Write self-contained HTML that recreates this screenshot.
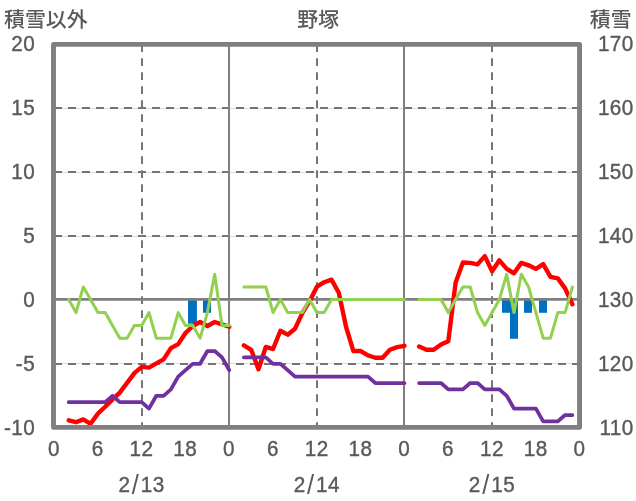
<!DOCTYPE html>
<html lang="ja"><head><meta charset="utf-8"><title>野塚</title>
<style>html,body{margin:0;padding:0;background:#fff}svg{display:block}.n{font-family:"Liberation Sans",sans-serif}.j{font-family:"Liberation Sans","Noto Sans CJK JP",sans-serif}</style></head>
<body>
<svg width="636" height="501" viewBox="0 0 636 501">
<rect width="636" height="501" fill="#fff"/>
<line x1="54.1" x2="579.7" y1="108.45" y2="108.45" stroke="#d6d6d6" stroke-width="0.9"/>
<line x1="54.1" x2="579.7" y1="172.45" y2="172.45" stroke="#d6d6d6" stroke-width="0.9"/>
<line x1="54.1" x2="579.7" y1="236.45" y2="236.45" stroke="#d6d6d6" stroke-width="0.9"/>
<line x1="54.1" x2="579.7" y1="363.45" y2="363.45" stroke="#d6d6d6" stroke-width="0.9"/>
<line x1="54" x2="579.7" y1="108.00" y2="108.00" stroke="#757575" stroke-width="2" stroke-dasharray="8 6"/>
<line x1="54" x2="579.7" y1="172.00" y2="172.00" stroke="#757575" stroke-width="2" stroke-dasharray="8 6"/>
<line x1="54" x2="579.7" y1="236.00" y2="236.00" stroke="#757575" stroke-width="2" stroke-dasharray="8 6"/>
<line x1="54" x2="579.7" y1="364.00" y2="364.00" stroke="#757575" stroke-width="2" stroke-dasharray="8 6"/>
<line x1="142.0" x2="142.0" y1="44.2" y2="427.40" stroke="#757575" stroke-width="2" stroke-dasharray="7.7 6.3"/>
<line x1="317.0" x2="317.0" y1="44.2" y2="427.40" stroke="#757575" stroke-width="2" stroke-dasharray="7.7 6.3"/>
<line x1="492.0" x2="492.0" y1="44.2" y2="427.40" stroke="#757575" stroke-width="2" stroke-dasharray="7.7 6.3"/>
<line x1="229.0" x2="229.0" y1="44.40" y2="427.40" stroke="#7f7f7f" stroke-width="2"/>
<line x1="404.0" x2="404.0" y1="44.40" y2="427.40" stroke="#7f7f7f" stroke-width="2"/>
<rect x="188.0" y="299.4" width="8.90" height="24.28" fill="#0070c0"/>
<rect x="203.0" y="299.4" width="8.00" height="13.40" fill="#0070c0"/>
<rect x="502.0" y="299.4" width="8.00" height="13.40" fill="#0070c0"/>
<rect x="510.0" y="299.4" width="8.00" height="39.38" fill="#0070c0"/>
<rect x="524.0" y="299.4" width="8.00" height="13.40" fill="#0070c0"/>
<rect x="539.0" y="299.4" width="8.00" height="13.40" fill="#0070c0"/>
<line x1="54.1" x2="579.7" y1="299.4" y2="299.4" stroke="#7f7f7f" stroke-width="2.67"/>
<polyline points="68.70,420.32 76.00,422.24 83.30,419.42 90.60,423.78 97.90,413.66 105.20,406.75 112.50,399.46 119.80,392.67 127.10,382.82 134.40,373.09 141.70,366.82 149.00,367.58 156.30,363.36 163.60,359.39 170.90,348.13 178.20,344.16 185.50,333.02 192.80,325.98 200.10,322.02 207.40,325.98 214.70,322.02 222.00,324.32 229.30,326.75" fill="none" stroke="#ff0000" stroke-width="4.4" stroke-linejoin="round" stroke-linecap="round"/>
<polyline points="243.90,345.31 251.20,349.79 258.50,369.25 265.80,346.98 273.10,349.02 280.40,330.72 287.70,334.69 295.00,328.80 302.30,313.18 309.60,301.15 316.90,286.69 324.20,282.21 331.50,279.65 338.80,292.70 346.10,327.01 353.40,351.07 360.70,351.07 368.00,355.42 375.30,357.73 382.60,357.73 389.90,349.79 397.20,347.10 404.50,345.82" fill="none" stroke="#ff0000" stroke-width="4.4" stroke-linejoin="round" stroke-linecap="round"/>
<polyline points="419.10,346.59 426.40,349.79 433.70,349.79 441.00,344.54 448.30,341.34 455.60,282.85 462.90,262.50 470.20,262.88 477.50,264.42 484.80,256.10 492.10,271.20 499.40,260.32 506.70,268.90 514.00,273.25 521.30,262.88 528.60,265.31 535.90,268.90 543.20,264.16 550.50,276.96 557.80,278.37 565.10,288.35 572.40,304.22" fill="none" stroke="#ff0000" stroke-width="4.4" stroke-linejoin="round" stroke-linecap="round"/>
<polyline points="68.70,402.20 76.00,402.20 83.30,402.20 90.60,402.20 97.90,402.20 105.20,402.20 112.50,395.80 119.80,402.20 127.10,402.20 134.40,402.20 141.70,402.20 149.00,408.60 156.30,395.80 163.60,395.80 170.90,389.40 178.20,376.60 185.50,370.20 192.80,363.80 200.10,363.80 207.40,351.00 214.70,351.00 222.00,357.40 229.30,370.20" fill="none" stroke="#7030a0" stroke-width="3.75" stroke-linejoin="round" stroke-linecap="round"/>
<polyline points="243.90,357.40 251.20,357.40 258.50,357.40 265.80,357.40 273.10,363.80 280.40,363.80 287.70,370.20 295.00,376.60 302.30,376.60 309.60,376.60 316.90,376.60 324.20,376.60 331.50,376.60 338.80,376.60 346.10,376.60 353.40,376.60 360.70,376.60 368.00,376.60 375.30,383.00 382.60,383.00 389.90,383.00 397.20,383.00 404.50,383.00" fill="none" stroke="#7030a0" stroke-width="3.75" stroke-linejoin="round" stroke-linecap="round"/>
<polyline points="419.10,383.00 426.40,383.00 433.70,383.00 441.00,383.00 448.30,389.40 455.60,389.40 462.90,389.40 470.20,383.00 477.50,383.00 484.80,389.40 492.10,389.40 499.40,389.40 506.70,395.80 514.00,408.60 521.30,408.60 528.60,408.60 535.90,408.60 543.20,421.40 550.50,421.40 557.80,421.40 565.10,415.00 572.40,415.00" fill="none" stroke="#7030a0" stroke-width="3.75" stroke-linejoin="round" stroke-linecap="round"/>
<polyline points="68.70,299.40 76.00,312.60 83.30,287.00 90.60,299.40 97.90,312.60 105.20,312.60 112.50,325.40 119.80,338.20 127.10,338.20 134.40,325.40 141.70,325.40 149.00,312.60 156.30,338.20 163.60,338.20 170.90,338.20 178.20,312.60 185.50,325.40 192.80,325.40 200.10,338.20 207.40,312.60 214.70,274.20 222.00,325.40 229.30,325.40" fill="none" stroke="#92d050" stroke-width="3.0" stroke-linejoin="round" stroke-linecap="round"/>
<polyline points="243.90,287.00 251.20,287.00 258.50,287.00 265.80,287.00 273.10,312.60 280.40,299.40 287.70,312.60 295.00,312.60 302.30,312.60 309.60,299.40 316.90,312.60 324.20,312.60 331.50,299.40 338.80,299.40 346.10,299.40 353.40,299.40 360.70,299.40 368.00,299.40 375.30,299.40 382.60,299.40 389.90,299.40 397.20,299.40 404.50,299.40" fill="none" stroke="#92d050" stroke-width="3.0" stroke-linejoin="round" stroke-linecap="round"/>
<polyline points="419.10,299.40 426.40,299.40 433.70,299.40 441.00,299.40 448.30,312.60 455.60,299.40 462.90,287.00 470.20,287.00 477.50,312.60 484.80,325.40 492.10,312.60 499.40,299.40 506.70,274.20 514.00,312.60 521.30,274.20 528.60,287.00 535.90,312.60 543.20,338.20 550.50,338.20 557.80,312.60 565.10,312.60 572.40,287.00" fill="none" stroke="#92d050" stroke-width="3.0" stroke-linejoin="round" stroke-linecap="round"/>
<rect x="53.5" y="44.4" width="526.06" height="383.00" fill="none" stroke="#7f7f7f" stroke-width="4.9" stroke-linejoin="round"/>
<text transform="translate(35.20,434.70) scale(0.94,1)" text-anchor="end" class="n" font-size="22" letter-spacing="0.5" stroke="#595959" stroke-width="0.4" fill="#595959">-10</text>
<text transform="translate(633.80,434.70) scale(0.94,1)" text-anchor="end" class="n" font-size="22" letter-spacing="0.5" stroke="#595959" stroke-width="0.4" fill="#595959">110</text>
<text transform="translate(35.20,370.70) scale(0.94,1)" text-anchor="end" class="n" font-size="22" letter-spacing="0.5" stroke="#595959" stroke-width="0.4" fill="#595959">-5</text>
<text transform="translate(633.80,370.70) scale(0.94,1)" text-anchor="end" class="n" font-size="22" letter-spacing="0.5" stroke="#595959" stroke-width="0.4" fill="#595959">120</text>
<text transform="translate(35.20,306.70) scale(0.94,1)" text-anchor="end" class="n" font-size="22" letter-spacing="0.5" stroke="#595959" stroke-width="0.4" fill="#595959">0</text>
<text transform="translate(633.80,306.70) scale(0.94,1)" text-anchor="end" class="n" font-size="22" letter-spacing="0.5" stroke="#595959" stroke-width="0.4" fill="#595959">130</text>
<text transform="translate(35.20,242.70) scale(0.94,1)" text-anchor="end" class="n" font-size="22" letter-spacing="0.5" stroke="#595959" stroke-width="0.4" fill="#595959">5</text>
<text transform="translate(633.80,242.70) scale(0.94,1)" text-anchor="end" class="n" font-size="22" letter-spacing="0.5" stroke="#595959" stroke-width="0.4" fill="#595959">140</text>
<text transform="translate(35.20,178.70) scale(0.94,1)" text-anchor="end" class="n" font-size="22" letter-spacing="0.5" stroke="#595959" stroke-width="0.4" fill="#595959">10</text>
<text transform="translate(633.80,178.70) scale(0.94,1)" text-anchor="end" class="n" font-size="22" letter-spacing="0.5" stroke="#595959" stroke-width="0.4" fill="#595959">150</text>
<text transform="translate(35.20,114.70) scale(0.94,1)" text-anchor="end" class="n" font-size="22" letter-spacing="0.5" stroke="#595959" stroke-width="0.4" fill="#595959">15</text>
<text transform="translate(633.80,114.70) scale(0.94,1)" text-anchor="end" class="n" font-size="22" letter-spacing="0.5" stroke="#595959" stroke-width="0.4" fill="#595959">160</text>
<text transform="translate(35.20,50.70) scale(0.94,1)" text-anchor="end" class="n" font-size="22" letter-spacing="0.5" stroke="#595959" stroke-width="0.4" fill="#595959">20</text>
<text transform="translate(633.80,50.70) scale(0.94,1)" text-anchor="end" class="n" font-size="22" letter-spacing="0.5" stroke="#595959" stroke-width="0.4" fill="#595959">170</text>
<text transform="translate(53.90,455.65) scale(0.94,1)" text-anchor="middle" class="n" font-size="22" letter-spacing="0.5" stroke="#595959" stroke-width="0.4" fill="#595959">0</text>
<text transform="translate(97.70,455.65) scale(0.94,1)" text-anchor="middle" class="n" font-size="22" letter-spacing="0.5" stroke="#595959" stroke-width="0.4" fill="#595959">6</text>
<text transform="translate(141.50,455.65) scale(0.94,1)" text-anchor="middle" class="n" font-size="22" letter-spacing="0.5" stroke="#595959" stroke-width="0.4" fill="#595959">12</text>
<text transform="translate(185.30,455.65) scale(0.94,1)" text-anchor="middle" class="n" font-size="22" letter-spacing="0.5" stroke="#595959" stroke-width="0.4" fill="#595959">18</text>
<text transform="translate(229.10,455.65) scale(0.94,1)" text-anchor="middle" class="n" font-size="22" letter-spacing="0.5" stroke="#595959" stroke-width="0.4" fill="#595959">0</text>
<text transform="translate(272.90,455.65) scale(0.94,1)" text-anchor="middle" class="n" font-size="22" letter-spacing="0.5" stroke="#595959" stroke-width="0.4" fill="#595959">6</text>
<text transform="translate(316.70,455.65) scale(0.94,1)" text-anchor="middle" class="n" font-size="22" letter-spacing="0.5" stroke="#595959" stroke-width="0.4" fill="#595959">12</text>
<text transform="translate(360.50,455.65) scale(0.94,1)" text-anchor="middle" class="n" font-size="22" letter-spacing="0.5" stroke="#595959" stroke-width="0.4" fill="#595959">18</text>
<text transform="translate(404.30,455.65) scale(0.94,1)" text-anchor="middle" class="n" font-size="22" letter-spacing="0.5" stroke="#595959" stroke-width="0.4" fill="#595959">0</text>
<text transform="translate(448.10,455.65) scale(0.94,1)" text-anchor="middle" class="n" font-size="22" letter-spacing="0.5" stroke="#595959" stroke-width="0.4" fill="#595959">6</text>
<text transform="translate(491.90,455.65) scale(0.94,1)" text-anchor="middle" class="n" font-size="22" letter-spacing="0.5" stroke="#595959" stroke-width="0.4" fill="#595959">12</text>
<text transform="translate(535.70,455.65) scale(0.94,1)" text-anchor="middle" class="n" font-size="22" letter-spacing="0.5" stroke="#595959" stroke-width="0.4" fill="#595959">18</text>
<text transform="translate(579.50,455.65) scale(0.94,1)" text-anchor="middle" class="n" font-size="22" letter-spacing="0.5" stroke="#595959" stroke-width="0.4" fill="#595959">0</text>
<text transform="translate(141.60,491.65) scale(0.94,1)" text-anchor="middle" class="n" font-size="22" letter-spacing="0.5" stroke="#595959" stroke-width="0.4" fill="#595959">2<tspan dx="1.5" dy="2.6" font-size="27" stroke="none">/</tspan><tspan dx="1.5" dy="-2.6">13</tspan></text>
<text transform="translate(316.80,491.65) scale(0.94,1)" text-anchor="middle" class="n" font-size="22" letter-spacing="0.5" stroke="#595959" stroke-width="0.4" fill="#595959">2<tspan dx="1.5" dy="2.6" font-size="27" stroke="none">/</tspan><tspan dx="1.5" dy="-2.6">14</tspan></text>
<text transform="translate(492.00,491.65) scale(0.94,1)" text-anchor="middle" class="n" font-size="22" letter-spacing="0.5" stroke="#595959" stroke-width="0.4" fill="#595959">2<tspan dx="1.5" dy="2.6" font-size="27" stroke="none">/</tspan><tspan dx="1.5" dy="-2.6">15</tspan></text>
<text transform="translate(4.0,27.0) scale(1.03,1)" class="j" font-size="20.3" font-weight="500" fill="#595959">積雪以外</text>
<text transform="translate(318.2,27.0) scale(1.03,1)" text-anchor="middle" class="j" font-size="20.3" font-weight="500" fill="#595959">野塚</text>
<text transform="translate(631.6,27.0) scale(1.03,1)" text-anchor="end" class="j" font-size="20.3" font-weight="500" fill="#595959">積雪</text>
</svg>
</body></html>
